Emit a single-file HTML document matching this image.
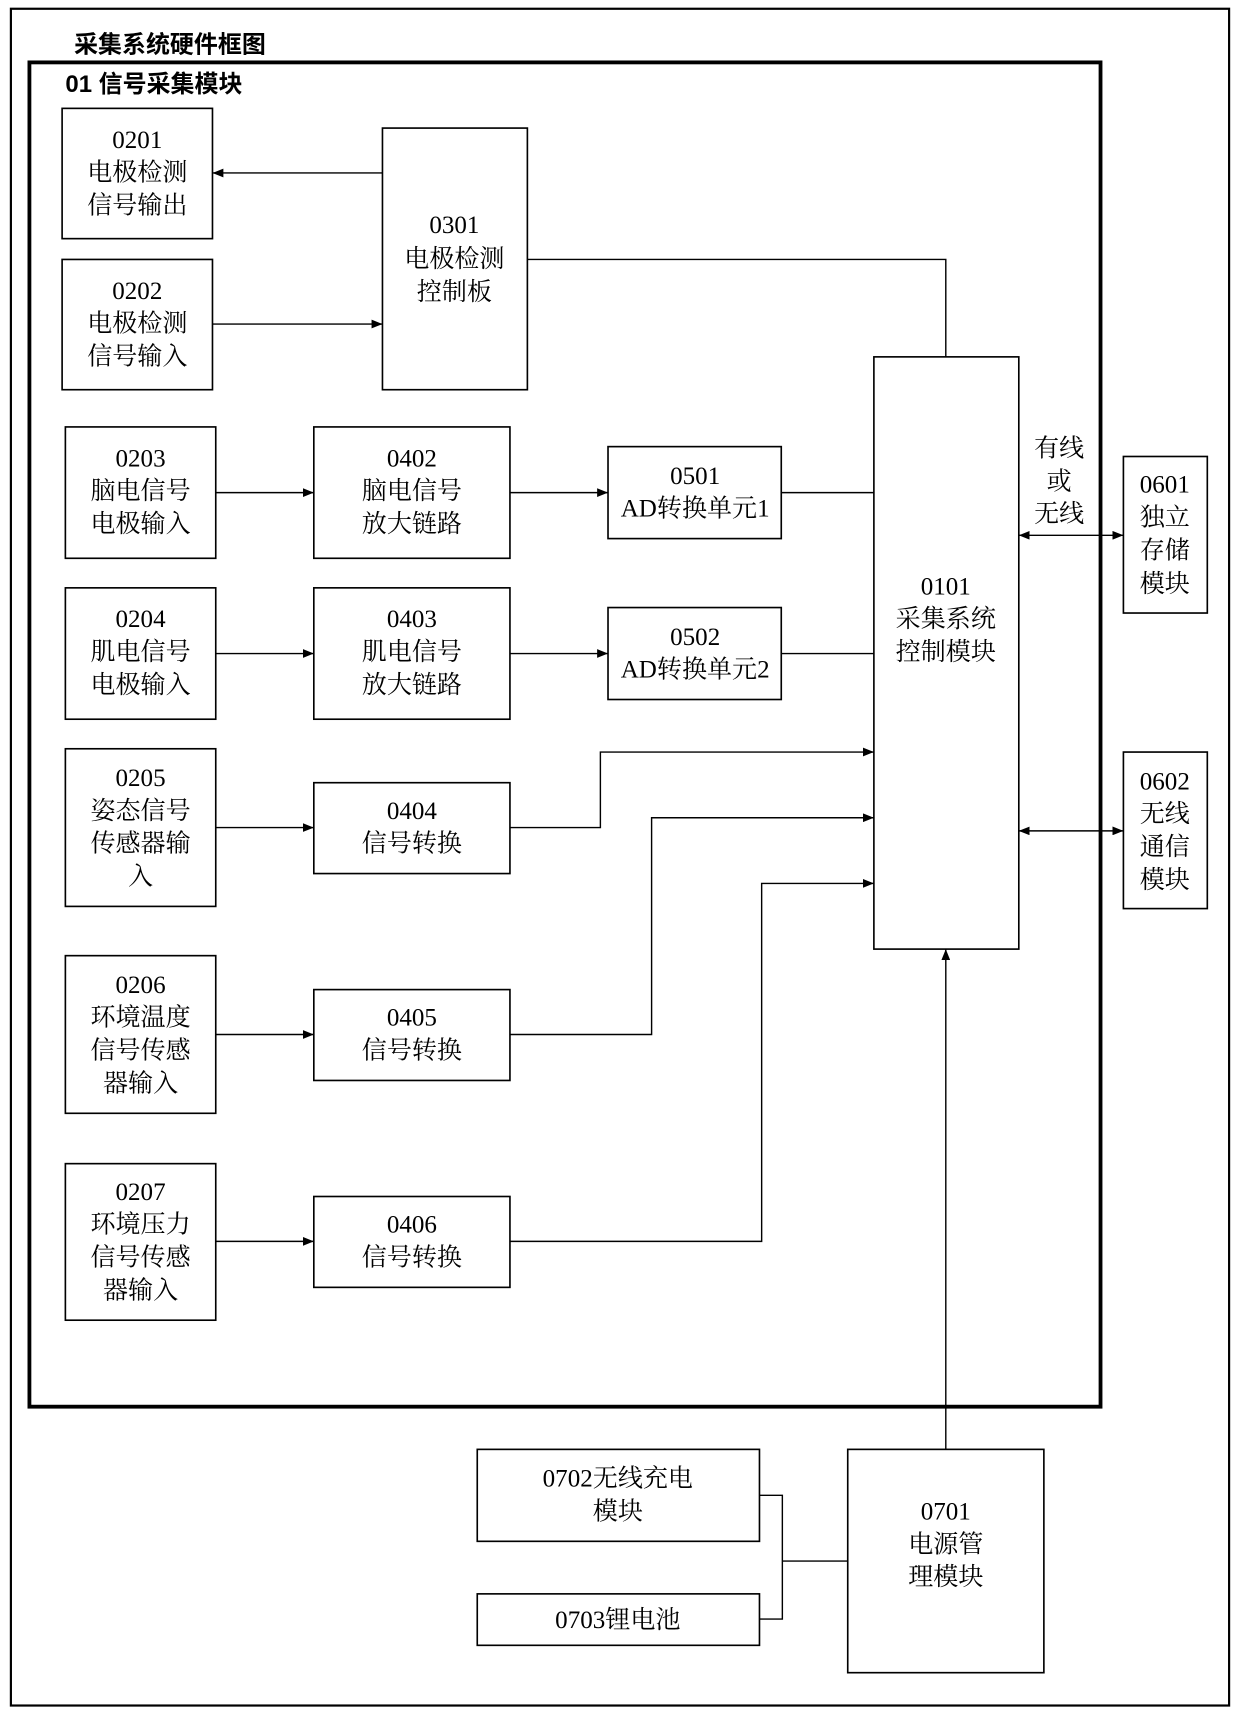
<!DOCTYPE html>
<html><head><meta charset="utf-8"><style>
html,body{margin:0;padding:0;background:#fff}
svg{display:block}
text{font-family:"Liberation Serif","Noto Serif CJK SC",serif;font-size:23px;fill:#000;text-anchor:middle}
.b{font-family:"Liberation Sans","Noto Sans CJK SC",sans-serif;font-weight:bold;text-anchor:start;font-size:22px}
rect{fill:none;stroke:#000;stroke-width:1.5}
path{fill:none;stroke:#000;stroke-width:1.3}
</style></head><body>
<svg width="1240" height="1711" viewBox="0 0 1138 1563" preserveAspectRatio="none">
<defs><marker id="a" markerWidth="10" markerHeight="8" refX="10" refY="4" orient="auto-start-reverse" markerUnits="userSpaceOnUse"><path d="M0,0L10,4L0,8Z" style="fill:#000;stroke:none"/></marker></defs>
<rect x="10" y="8" width="1118" height="1550" style="stroke-width:2"/>
<text class="b" x="68" y="48">采集系统硬件框图</text>
<rect x="27" y="57" width="983" height="1228" style="stroke-width:3.5"/>
<text class="b" x="60" y="84">01  信号采集模块</text>

<rect x="57" y="99" width="138" height="119"/>
<text x="126" y="135">0201</text><text x="126" y="165">电极检测</text><text x="126" y="195">信号输出</text>
<rect x="57" y="237" width="138" height="119"/>
<text x="126" y="273">0202</text><text x="126" y="303">电极检测</text><text x="126" y="333">信号输入</text>
<rect x="351" y="117" width="133" height="239"/>
<text x="417" y="213">0301</text><text x="417" y="244">电极检测</text><text x="417" y="274">控制板</text>
<path d="M351,158H195" marker-end="url(#a)"/>
<path d="M195,296H351" marker-end="url(#a)"/>
<path d="M484,237H868V326"/>

<rect x="802" y="326" width="133" height="541"/>
<text x="868" y="543">0101</text><text x="868" y="573">采集系统</text><text x="868" y="603">控制模块</text>

<rect x="60" y="390" width="138" height="120"/>
<text x="129" y="426">0203</text><text x="129" y="456">脑电信号</text><text x="129" y="486">电极输入</text>
<rect x="288" y="390" width="180" height="120"/>
<text x="378" y="426">0402</text><text x="378" y="456">脑电信号</text><text x="378" y="486">放大链路</text>
<rect x="558" y="408" width="159" height="84"/>
<text x="638" y="442">0501</text><text x="638" y="472">AD转换单元1</text>
<path d="M198,450H288" marker-end="url(#a)"/><path d="M468,450H558" marker-end="url(#a)"/><path d="M717,450H802"/>

<rect x="60" y="537" width="138" height="120"/>
<text x="129" y="573">0204</text><text x="129" y="603">肌电信号</text><text x="129" y="633">电极输入</text>
<rect x="288" y="537" width="180" height="120"/>
<text x="378" y="573">0403</text><text x="378" y="603">肌电信号</text><text x="378" y="633">放大链路</text>
<rect x="558" y="555" width="159" height="84"/>
<text x="638" y="589">0502</text><text x="638" y="619">AD转换单元2</text>
<path d="M198,597H288" marker-end="url(#a)"/><path d="M468,597H558" marker-end="url(#a)"/><path d="M717,597H802"/>

<rect x="60" y="684" width="138" height="144"/>
<text x="129" y="718">0205</text><text x="129" y="748">姿态信号</text><text x="129" y="778">传感器输</text><text x="129" y="808">入</text>
<rect x="288" y="715" width="180" height="83"/>
<text x="378" y="748">0404</text><text x="378" y="778">信号转换</text>
<path d="M198,756H288" marker-end="url(#a)"/><path d="M468,756H551V687H802" marker-end="url(#a)"/>

<rect x="60" y="873" width="138" height="144"/>
<text x="129" y="907">0206</text><text x="129" y="937">环境温度</text><text x="129" y="967">信号传感</text><text x="129" y="997">器输入</text>
<rect x="288" y="904" width="180" height="83"/>
<text x="378" y="937">0405</text><text x="378" y="967">信号转换</text>
<path d="M198,945H288" marker-end="url(#a)"/><path d="M468,945H598V747H802" marker-end="url(#a)"/>

<rect x="60" y="1063" width="138" height="143"/>
<text x="129" y="1096">0207</text><text x="129" y="1126">环境压力</text><text x="129" y="1156">信号传感</text><text x="129" y="1186">器输入</text>
<rect x="288" y="1093" width="180" height="83"/>
<text x="378" y="1126">0406</text><text x="378" y="1156">信号转换</text>
<path d="M198,1134H288" marker-end="url(#a)"/><path d="M468,1134H699V807H802" marker-end="url(#a)"/>

<rect x="1031" y="417" width="77" height="143"/>
<text x="1069" y="450">0601</text><text x="1069" y="480">独立</text><text x="1069" y="510">存储</text><text x="1069" y="541">模块</text>
<text x="972" y="417">有线</text><text x="972" y="447">或</text><text x="972" y="477">无线</text>
<path d="M935,489H1031" marker-start="url(#a)" marker-end="url(#a)"/>
<rect x="1031" y="687" width="77" height="143"/>
<text x="1069" y="721">0602</text><text x="1069" y="751">无线</text><text x="1069" y="781">通信</text><text x="1069" y="811">模块</text>
<path d="M935,759H1031" marker-start="url(#a)" marker-end="url(#a)"/>

<rect x="778" y="1324" width="180" height="204"/>
<text x="868" y="1388">0701</text><text x="868" y="1418">电源管</text><text x="868" y="1448">理模块</text>
<path d="M868,1324V867" marker-end="url(#a)"/>
<rect x="438" y="1324" width="259" height="84"/>
<text x="567" y="1358">0702无线充电</text><text x="567" y="1388">模块</text>
<rect x="438" y="1456" width="259" height="47"/>
<text x="567" y="1487">0703锂电池</text>
<path d="M697,1366H718V1479H697"/><path d="M718,1426H778"/>
</svg>
</body></html>
